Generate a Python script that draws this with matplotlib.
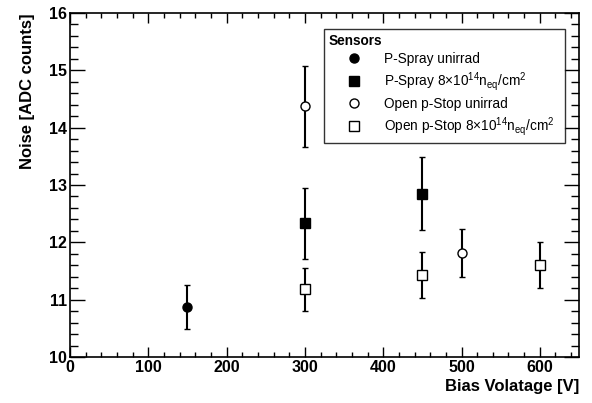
import numpy as np
from matplotlib import pyplot as plt
from matplotlib.ticker import MultipleLocator
from matplotlib.lines import Line2D

plt.rcParams['font.family'] = ['Liberation Sans', 'DejaVu Sans']
plt.rcParams['mathtext.fontset'] = 'custom'
plt.rcParams['mathtext.rm'] = 'Liberation Sans'
plt.rcParams['mathtext.it'] = 'Liberation Sans:italic'
plt.rcParams['mathtext.bf'] = 'Liberation Sans:bold'

# noise vs bias voltage, per sensor type
ps_unirr_v = [150]
ps_unirr_n = [10.87]
ps_unirr_e = [0.38]

ps_irr_v = [300, 450]
ps_irr_n = [12.33, 12.85]
ps_irr_e = [0.62, 0.63]

op_unirr_v = [300, 500]
op_unirr_n = [14.37, 11.82]
op_unirr_e = [0.70, 0.42]

op_irr_v = [300, 450, 600]
op_irr_n = [11.18, 11.43, 11.60]
op_irr_e = [0.38, 0.40, 0.40]

labels = ['P-Spray unirrad',
          r'P-Spray 8$\times$10$^{\rm 14}$n$_{\rm eq}$/cm$^{\rm 2}$',
          'Open p-Stop unirrad',
          r'Open p-Stop 8$\times$10$^{\rm 14}$n$_{\rm eq}$/cm$^{\rm 2}$']

#%%
fig = plt.figure(figsize=(5.92, 4.03), dpi=100)
ax = fig.add_axes([0.1182, 0.1141, 0.978 - 0.1182, 0.9677 - 0.1141])

series = [(ps_unirr_v, ps_unirr_n, ps_unirr_e, 'o', 'black'),
          (ps_irr_v, ps_irr_n, ps_irr_e, 's', 'black'),
          (op_unirr_v, op_unirr_n, op_unirr_e, 'o', 'white'),
          (op_irr_v, op_irr_n, op_irr_e, 's', 'white')]
handles = []
for (v, n, e, m, fc), lab in zip(series, labels):
    ax.errorbar(v, n, yerr=e, fmt=m, mfc=fc, mec='black', ecolor='black',
                ms=6.5, mew=1.0, elinewidth=1.5, capsize=2, capthick=1.5)
    handles.append(Line2D([], [], ls='none', marker=m, mfc=fc, mec='black', ms=6.5, mew=1.0))

ax.set_xlim(0, 650)
ax.set_ylim(10, 16)
ax.xaxis.set_major_locator(MultipleLocator(100))
ax.xaxis.set_minor_locator(MultipleLocator(20))
ax.yaxis.set_major_locator(MultipleLocator(1))
ax.yaxis.set_minor_locator(MultipleLocator(0.2))
ax.tick_params(which='both', direction='in', top=True, right=True, width=1)
ax.tick_params(axis='x', which='major', length=7.5, pad=2)
ax.tick_params(axis='x', which='minor', length=3.8)
ax.tick_params(axis='y', which='major', length=11, pad=2)
ax.tick_params(axis='y', which='minor', length=5.5)
for lab in ax.get_xticklabels() + ax.get_yticklabels():
    lab.set_fontweight('bold')
    lab.set_fontsize(11.5)
for s in ax.spines.values():
    s.set_linewidth(1.2)

ax.set_xlabel('Bias Volatage [V]', fontsize=12, fontweight='bold', loc='right', labelpad=3)
ax.set_ylabel('Noise [ADC counts]', fontsize=12, fontweight='bold', loc='top', labelpad=10)

leg = ax.legend(handles, labels, title='Sensors', loc='upper left',
                bbox_to_anchor=(0.499, 0.9535, 0.4735, 0.0), mode='expand',
                fontsize=9.8, frameon=True,
                fancybox=False, edgecolor='black', alignment='left',
                handletextpad=0.3, labelspacing=0.3, borderpad=0.35,
                handlelength=3.75, borderaxespad=0.0)
leg.get_title().set_fontweight('bold')
leg.get_title().set_fontsize(9.8)
leg.get_frame().set_linewidth(1.0)

plt.savefig('out.png', dpi=100)
